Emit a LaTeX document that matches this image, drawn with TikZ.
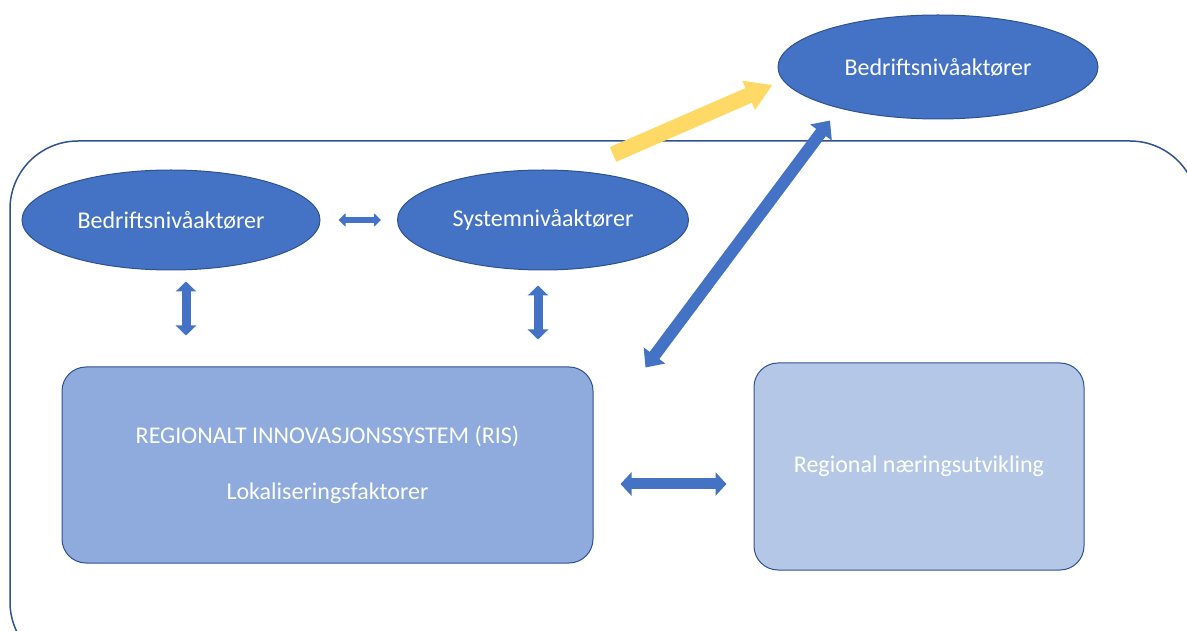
\documentclass[tikz,border=0pt]{standalone}
\usepackage{fontspec}
\setmainfont{Carlito}
\usepackage{xcolor}
\definecolor{nodeblue}{RGB}{68,114,196}
\definecolor{edgeblue}{RGB}{47,82,143}
\definecolor{risblue}{RGB}{143,170,220}
\definecolor{paleblue}{RGB}{180,199,231}
\definecolor{goldarrow}{RGB}{255,217,102}
\usetikzlibrary{calc}
\usetikzlibrary{arrows.meta}
\usetikzlibrary{shapes.geometric}
\newcommand{\labelsize}{\fontsize{24}{29}\selectfont}
\tikzset{
    actor/.style={ellipse, draw=edgeblue, line width=1pt, fill=nodeblue, text=white, font=\labelsize},
    box/.style={rectangle, rounded corners=24pt, draw=edgeblue, line width=1pt, text=white, font=\labelsize, align=center},
    frame/.style={draw=edgeblue, line width=1.5pt, rounded corners=68pt},
    blockarrow/.style={nodeblue, line width=#1},
    tipsmall/.style={{Triangle[length=7pt,width=13pt]}-{Triangle[length=7pt,width=13pt]}},
    tipmid/.style={{Triangle[length=10pt,width=20pt]}-{Triangle[length=10pt,width=20pt]}},
    tipwide/.style={{Triangle[length=11pt,width=23pt]}-{Triangle[length=11pt,width=23pt]}},
    tipdiag/.style={{Triangle[length=15pt,width=26pt]}-{Triangle[length=15pt,width=26pt]}}
}

\begin{document}
\begin{tikzpicture}[x=1pt,y=1pt]
    \useasboundingbox (0,0) rectangle (1187,630);
    \draw[frame] (10,-40) rectangle (1198,489);

    \path
        node[actor, minimum width=320pt, minimum height=104pt] (btop) at (938,563) {Bedriftsnivåaktører}
        node[actor, minimum width=298pt, minimum height=100pt] (bleft) at (171,410) {Bedriftsnivåaktører}
        node[actor, minimum width=291pt, minimum height=100pt] (sys) at (543,410) {Systemnivåaktører}
        node[box, fill=risblue, minimum width=531pt, minimum height=196pt] (ris) at (327.5,165)
            {REGIONALT INNOVASJONSSYSTEM (RIS)\\[27pt]Lokaliseringsfaktorer}
        node[box, fill=paleblue, minimum width=330pt, minimum height=207pt] (region) at (919,163.5)
            {Regional næringsutvikling};

    \draw[blockarrow=6pt, tipsmall, shorten <=18pt, shorten >=16pt] (bleft) -- (sys);
    \draw[blockarrow=9pt, tipmid, shorten <=11pt, shorten >=31pt]
        ([xshift=15pt]bleft.south) -- ([xshift=15pt]bleft.south |- ris.north);
    \draw[blockarrow=9pt, tipmid, shorten <=15pt, shorten >=27pt]
        ([xshift=-5pt]sys.south) -- ([xshift=-5pt]sys.south |- ris.north);
    \draw[blockarrow=11pt, tipwide, shorten <=27pt, shorten >=27pt]
        ([yshift=-19pt]ris.east) -- ([yshift=-19pt]ris.east -| region.west);
    \draw[blockarrow=12pt, tipdiag]
        ($(ris.north east)+(52,-1)$) -- ($(btop.south)+(-108,-1)$);
    \draw[goldarrow, line width=16pt, -{Triangle[length=26pt,width=30pt]}]
        ($(sys.north)+(70,15)$) -- ($(btop.west)+(-5,-18)$);
\end{tikzpicture}
\end{document}
